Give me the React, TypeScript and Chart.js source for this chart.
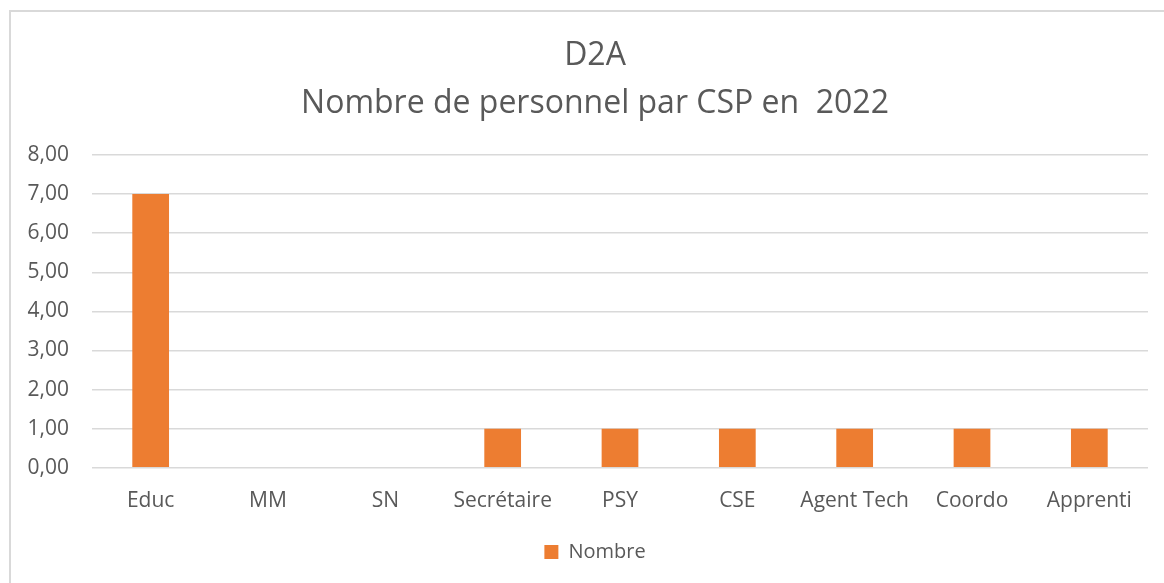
import React, { useEffect, useRef } from "react";
import { Chart, registerables } from "chart.js";

Chart.register(...registerables);

const categories = ["Educ", "MM", "SN", "Secrétaire", "PSY", "CSE", "Agent Tech", "Coordo", "Apprenti"];
const nombre = [7, 0, 0, 1, 1, 1, 1, 1, 1];
const titleLines = ["D2A", "Nombre de personnel par CSP en  2022"];
const seriesLabel = "Nombre";
const yMin = 0;
const yMax = 8;
const yStep = 1;

const FONT = "'Open Sans', 'Noto Sans', sans-serif";
const TEXT = "#595959";

export default function App() {
  const ref = useRef<HTMLCanvasElement>(null);
  useEffect(() => {
    if (!ref.current) return;
    const chart = new Chart(ref.current, {
      type: "bar",
      data: {
        labels: categories,
        datasets: [
          {
            label: seriesLabel,
            data: nombre,
            backgroundColor: "#ED7D31",
            borderWidth: 0,
            barPercentage: 0.313,
            categoryPercentage: 1,
          },
        ],
      },
      options: {
        responsive: false,
        animation: false,
        devicePixelRatio: 1,
        layout: { padding: { left: 0, right: 0, top: 0, bottom: 0 } },
        plugins: {
          tooltip: { enabled: false },
          title: {
            display: true,
            text: titleLines,
            color: TEXT,
            font: { family: FONT, size: 32, weight: "normal", lineHeight: "48px" },
            padding: { top: 32, bottom: 27 },
          },
          legend: {
            display: true,
            position: "bottom",
            labels: {
              color: TEXT,
              font: { family: FONT, size: 20 },
              boxWidth: 14,
              boxHeight: 14,
              padding: 7,
            },
          },
        },
        scales: {
          x: {
            grid: { display: false, drawTicks: false },
            border: { display: false },
            ticks: { color: TEXT, font: { family: FONT, size: 21 }, padding: 21, maxRotation: 0, autoSkip: false },
          },
          y: {
            min: yMin,
            max: yMax,
            afterFit: (s: any) => {
              s.width = 92;
            },
            grid: { color: "#d9d9d9", lineWidth: 1.5, drawTicks: false },
            border: { display: false },
            ticks: {
              stepSize: yStep,
              color: TEXT,
              font: { family: FONT, size: 21 },
              padding: 23,
              callback: (v: any) => Number(v).toFixed(2).replace(".", ","),
            },
          },
          yRight: {
            position: "right",
            display: true,
            min: yMin,
            max: yMax,
            afterFit: (s: any) => {
              s.width = 42;
            },
            grid: { display: false, drawTicks: false },
            border: { display: false },
            ticks: { display: false },
          },
        },
      },
    });
    return () => chart.destroy();
  }, []);

  return (
    <div style={{ position: "absolute", left: 0, top: 0, width: 1164, height: 583, overflow: "hidden", background: "#fff" }}>
      <div
        style={{
          position: "absolute",
          left: 9,
          top: 10,
          width: 1250,
          height: 700,
          border: "2px solid #d9d9d9",
          boxSizing: "border-box",
        }}
      />
      <canvas ref={ref} width={1190} height={572} style={{ position: "absolute", left: 0, top: 0 }} />
    </div>
  );
}
